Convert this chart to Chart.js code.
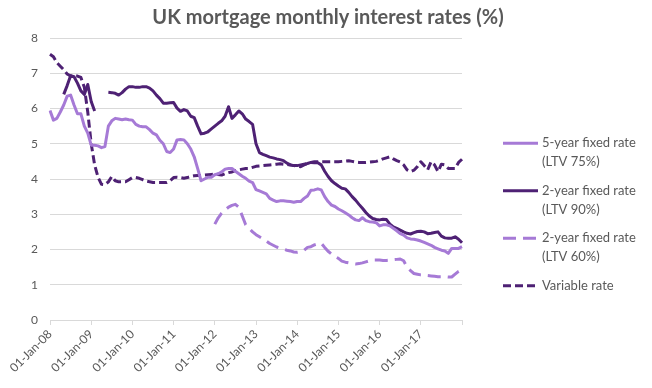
<!DOCTYPE html>
<html>
<head>
<meta charset="utf-8">
<script src="https://cdn.jsdelivr.net/npm/chart.js@4/dist/chart.umd.min.js"></script>
<style>
html,body{margin:0;padding:0;background:#fff;}
#wrap{width:652px;height:388px;position:relative;}
</style>
</head>
<body>
<div id="wrap"><canvas id="c" width="652" height="388"></canvas></div>
<script>
// Year tick labels (shown every 12 months)
const yearTicks = ['01-Jan-08','01-Jan-09','01-Jan-10','01-Jan-11','01-Jan-12','01-Jan-13','01-Jan-14','01-Jan-15','01-Jan-16','01-Jan-17','01-Jan-18'];
const monNames = ['Jan','Feb','Mar','Apr','May','Jun','Jul','Aug','Sep','Oct','Nov','Dec'];
// Monthly categories Jan 2008 .. Jan 2018
const months = [];
for (let i = 0; i <= 120; i++) {
  const y = 8 + Math.floor(i / 12);
  months.push('01-' + monNames[i % 12] + '-' + String(y).padStart(2, '0'));
}

const fiveYear75 = [
5.94,5.67,5.72,5.90,6.10,6.35,6.38,6.10,5.85,5.85,5.50,5.30,
4.96,4.96,4.94,4.89,4.92,5.50,5.65,5.72,5.70,5.68,5.70,5.68,
5.67,5.55,5.50,5.48,5.48,5.40,5.30,5.25,5.10,5.00,4.78,4.75,
4.85,5.11,5.12,5.11,5.00,4.85,4.63,4.30,3.95,4.00,4.05,4.05,
4.12,4.15,4.20,4.28,4.30,4.30,4.22,4.15,4.08,4.02,3.94,3.90,
3.70,3.66,3.62,3.58,3.45,3.40,3.36,3.38,3.38,3.37,3.36,3.34,
3.36,3.36,3.45,3.52,3.68,3.69,3.72,3.69,3.50,3.36,3.26,3.22,
3.15,3.10,3.04,2.98,2.90,2.84,2.82,2.90,2.82,2.79,2.78,2.76,
2.67,2.70,2.70,2.67,2.60,2.53,2.45,2.41,2.33,2.30,2.29,2.27,
2.24,2.20,2.16,2.12,2.06,2.02,1.98,1.96,1.89,2.03,2.03,2.03,
2.08];

const twoYear90 = [
null,null,null,null,6.40,6.65,6.93,6.90,6.72,6.50,6.40,6.68,
6.20,5.93,null,null,null,6.46,6.45,6.43,6.38,6.45,6.55,6.62,
6.62,6.60,6.60,6.62,6.62,6.58,6.50,6.38,6.28,6.15,6.15,6.16,
6.17,6.01,5.92,5.97,5.93,5.78,5.74,5.50,5.28,5.30,5.34,5.42,
5.50,5.58,5.65,5.78,6.05,5.72,5.82,5.93,5.85,5.70,5.63,5.55,
5.00,4.75,4.70,4.66,4.62,4.60,4.57,4.55,4.52,4.45,4.40,4.38,
4.38,4.40,4.42,4.44,4.47,4.46,4.46,4.40,4.22,4.07,3.95,3.87,
3.80,3.74,3.72,3.62,3.50,3.40,3.28,3.17,3.05,2.95,2.88,2.85,
2.84,2.86,2.85,2.72,2.64,2.60,2.55,2.50,2.46,2.44,2.48,2.51,
2.52,2.50,2.45,2.46,2.48,2.50,2.38,2.33,2.32,2.32,2.36,2.29,
2.19];

const twoYear60 = [
null,null,null,null,null,null,null,null,null,null,null,null,
null,null,null,null,null,null,null,null,null,null,null,null,
null,null,null,null,null,null,null,null,null,null,null,null,
null,null,null,null,null,null,null,null,null,null,null,null,
2.72,2.90,3.03,3.12,3.20,3.25,3.28,3.20,2.95,2.70,2.60,2.50,
2.42,2.36,2.30,2.24,2.17,2.12,2.07,2.04,2.01,1.98,1.96,1.93,
1.92,1.94,1.98,2.06,2.08,2.13,2.16,2.18,2.06,1.95,1.87,1.80,
1.75,1.67,1.64,1.62,1.60,1.59,1.60,1.62,1.65,1.68,1.70,1.70,
1.70,1.69,1.69,1.70,1.71,1.72,1.73,1.68,1.50,1.40,1.32,1.30,
1.28,1.28,1.26,1.25,1.24,1.23,1.23,1.23,1.22,1.22,1.30,1.38,
1.42];

const variableRate = [
7.54,7.47,7.30,7.20,7.10,6.98,6.92,6.92,6.92,6.88,6.60,5.90,
5.00,4.40,4.05,3.85,3.84,3.92,4.07,3.95,3.92,3.92,3.92,3.98,
4.04,4.04,4.02,3.98,3.94,3.92,3.90,3.90,3.90,3.90,3.90,3.95,
4.04,4.05,4.04,4.02,4.04,4.07,4.09,4.10,4.10,4.11,4.12,4.13,
4.14,4.13,4.11,4.15,4.18,4.20,4.24,4.26,4.28,4.30,4.30,4.33,
4.36,4.37,4.38,4.39,4.40,4.41,4.42,4.43,4.42,4.41,4.40,4.38,
4.36,4.35,4.40,4.44,4.47,4.49,4.49,4.49,4.49,4.49,4.49,4.49,
4.49,4.50,4.51,4.52,4.50,4.48,4.47,4.47,4.47,4.48,4.49,4.50,
4.53,4.57,4.60,4.63,4.57,4.52,4.48,4.40,4.26,4.21,4.25,4.35,
4.49,4.38,4.26,4.49,4.40,4.21,4.42,4.40,4.30,4.30,4.30,4.47,
4.56];

const seriesLabels = [
  ['5-year fixed rate','(LTV 75%)'],
  ['2-year fixed rate','(LTV 90%)'],
  ['2-year fixed rate','(LTV 60%)'],
  ['Variable rate']
];
const chartTitle = 'UK mortgage monthly interest rates (%)';

const LIGHT = '#a67ad6';
const DARK = '#4e2174';
const TEXT = '#595959';
const FONT = 'Lato, "Open Sans", sans-serif';

const sideLegend = {
  id: 'sideLegend',
  afterDraw(chart) {
    const ctx = chart.ctx;
    ctx.save();
    // title centred over the whole picture
    ctx.font = 'bold 20px ' + FONT;
    ctx.fillStyle = TEXT;
    ctx.textAlign = 'center';
    ctx.textBaseline = 'middle';
    ctx.fillText(chartTitle, 328, 18);

    const x0 = 503, x1 = 538, tx = 542;
    const ys = [143.3, 190.7, 238.3, 285.7];
    ctx.font = '13px ' + FONT;
    ctx.textAlign = 'left';
    chart.data.datasets.forEach((ds, i) => {
      const y = ys[i];
      ctx.save();
      ctx.strokeStyle = ds.borderColor;
      ctx.lineWidth = ds.borderWidth;
      ctx.setLineDash(ds.borderDash || []);
      ctx.beginPath();
      ctx.moveTo(x0, y);
      ctx.lineTo(x1, y);
      ctx.stroke();
      ctx.restore();
      const lines = Array.isArray(ds.label) ? ds.label : [ds.label];
      lines.forEach((t, j) => ctx.fillText(t, tx, y + j * 19));
    });
    ctx.restore();
  }
};

new Chart(document.getElementById('c'), {
  type: 'line',
  data: {
    labels: months,
    datasets: [
      { label: seriesLabels[0], data: fiveYear75, borderColor: LIGHT, borderWidth: 3, borderDash: [] },
      { label: seriesLabels[1], data: twoYear90, borderColor: DARK, borderWidth: 3, borderDash: [] },
      { label: seriesLabels[2], data: twoYear60, borderColor: LIGHT, borderWidth: 3, borderDash: [13, 7] },
      { label: seriesLabels[3], data: variableRate, borderColor: DARK, borderWidth: 3, borderDash: [8, 4] }
    ]
  },
  options: {
    responsive: false,
    animation: false,
    spanGaps: false,
    elements: { point: { radius: 0, hoverRadius: 0 }, line: { tension: 0, borderCapStyle: 'butt', borderJoinStyle: 'round' } },
    layout: { padding: { left: 0, right: 190, top: 38, bottom: 0 } },
    plugins: {
      legend: { display: false },
      tooltip: { enabled: false },
      title: { display: false }
    },
    scales: {
      x: {
        type: 'category',
        grid: { drawOnChartArea: false, drawTicks: true, tickLength: 5, color: '#d9d9d9' },
        border: { display: true, color: '#d9d9d9', width: 1 },
        afterBuildTicks(scale) {
          scale.ticks = scale.ticks.filter(t => t.value % 12 === 0);
        },
        afterFit(scale) { scale.height = 68; },
        ticks: {
          autoSkip: false,
          maxRotation: 45,
          minRotation: 45,
          padding: 2,
          color: TEXT,
          font: { family: FONT, size: 12 },
          callback(value) {
            const k = value / 12;
            return k < yearTicks.length - 1 ? yearTicks[k] : '';
          }
        }
      },
      y: {
        min: 0,
        max: 8,
        grid: { color: '#d9d9d9', drawTicks: false, lineWidth: 1 },
        border: { display: false },
        afterFit(scale) { scale.width = 50; },
        ticks: {
          stepSize: 1,
          padding: 12,
          color: TEXT,
          font: { family: FONT, size: 12 }
        }
      }
    }
  },
  plugins: [sideLegend]
});
</script>
</body>
</html>
